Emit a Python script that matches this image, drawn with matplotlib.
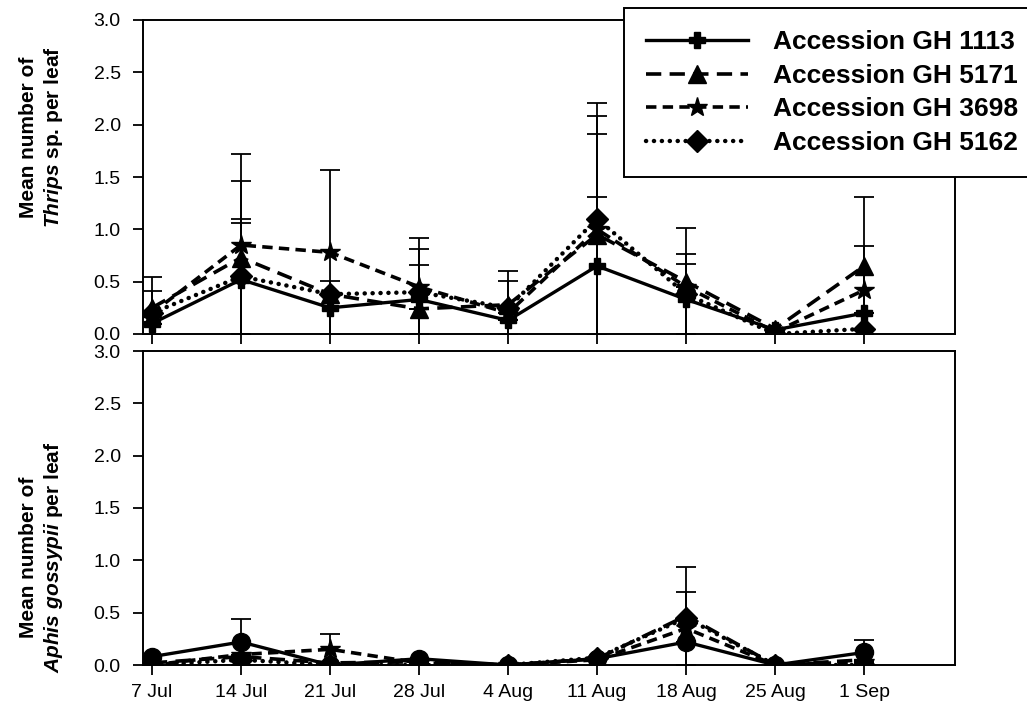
import numpy as np
import matplotlib
matplotlib.use('Agg')
import matplotlib.pyplot as plt

plt.rcParams['font.family'] = ['Liberation Sans', 'DejaVu Sans']
plt.rcParams['mathtext.fontset'] = 'custom'
plt.rcParams['mathtext.it'] = 'Liberation Sans:italic:bold'
plt.rcParams['mathtext.rm'] = 'Liberation Sans:bold'
plt.rcParams['lines.scale_dashes'] = False

dates = ['7 Jul', '14 Jul', '21 Jul', '28 Jul', '4 Aug', '11 Aug', '18 Aug', '25 Aug', '1 Sep']
accessions = ['Accession GH 1113', 'Accession GH 5171', 'Accession GH 3698', 'Accession GH 5162']

# Thrips sp. per leaf (mean, sd)
thrips_1113 = [0.10, 0.52, 0.25, 0.33, 0.13, 0.65, 0.33, 0.04, 0.20]
thrips_5171 = [0.25, 0.73, 0.38, 0.24, 0.28, 0.95, 0.50, 0.05, 0.65]
thrips_3698 = [0.20, 0.85, 0.78, 0.45, 0.20, 1.00, 0.45, 0.02, 0.42]
thrips_5162 = [0.20, 0.55, 0.38, 0.40, 0.25, 1.10, 0.38, 0.00, 0.05]
thrips_sd_1113 = [0.00, 0.54, 0.26, 0.33, 0.00, 0.66, 0.34, 0.00, 0.00]
thrips_sd_5171 = [0.29, 0.73, 0.00, 0.00, 0.32, 0.96, 0.51, 0.00, 0.66]
thrips_sd_3698 = [0.21, 0.87, 0.79, 0.47, 0.00, 1.08, 0.00, 0.00, 0.42]
thrips_sd_5162 = [0.00, 0.55, 0.00, 0.41, 0.26, 1.11, 0.38, 0.00, 0.00]

# Aphis gossypii per leaf (mean, sd)
aphis_1113 = [0.08, 0.22, 0.00, 0.06, 0.00, 0.06, 0.22, 0.00, 0.12]
aphis_5171 = [0.02, 0.08, 0.02, 0.03, 0.00, 0.06, 0.47, 0.00, 0.05]
aphis_3698 = [0.00, 0.10, 0.15, 0.02, 0.00, 0.05, 0.35, 0.00, 0.03]
aphis_5162 = [0.00, 0.05, 0.00, 0.00, 0.00, 0.07, 0.45, 0.00, 0.00]
aphis_sd_1113 = [0.00, 0.22, 0.00, 0.00, 0.00, 0.00, 0.00, 0.00, 0.12]
aphis_sd_5171 = [0.00, 0.00, 0.00, 0.00, 0.00, 0.00, 0.47, 0.00, 0.00]
aphis_sd_3698 = [0.00, 0.00, 0.15, 0.00, 0.00, 0.00, 0.35, 0.00, 0.00]
aphis_sd_5162 = [0.00, 0.00, 0.00, 0.00, 0.00, 0.00, 0.00, 0.00, 0.00]

W, H = 1027, 711
fig = plt.figure(figsize=(W / 100, H / 100), dpi=100)
ax1 = fig.add_axes([143 / W, (H - 334) / H, 812 / W, 314 / H])
ax2 = fig.add_axes([143 / W, (H - 665) / H, 812 / W, 314 / H])

x = np.arange(len(dates))

dot_style = dict(ls=(0, (0.1, 5.6)), dash_capstyle='round')
styles_top = [
    dict(ls='-', lw=2.4, marker='P', ms=12),
    dict(ls=(0, (11, 6)), lw=2.6, marker='^', ms=13),
    dict(ls=(0, (7.5, 4.5)), lw=2.6, marker='*', ms=15),
    dict(lw=3.2, marker='D', ms=11, **dot_style),
]
styles_bot = [
    dict(ls='-', lw=2.4, marker='o', ms=13),
    dict(ls=(0, (11, 6)), lw=2.6, marker='^', ms=13),
    dict(ls=(0, (7.5, 4.5)), lw=2.6, marker='*', ms=15),
    dict(lw=3.2, marker='D', ms=11, **dot_style),
]


def draw_panel(ax, means, sds, styles):
    for m, s in zip(means, sds):
        ax.errorbar(x, m, yerr=s, fmt='none', ecolor='black', elinewidth=1.3,
                    capsize=7, capthick=1.3, zorder=2)
    handles = []
    for m, st in zip(means, styles):
        h, = ax.plot(x, m, color='black', mfc='black', mec='black', zorder=3, **st)
        handles.append(h)
    ax.set_xlim(-0.101, 9.02)
    ax.set_ylim(0, 3.0)
    ax.set_yticks(np.arange(0, 3.01, 0.5))
    ax.set_yticklabels([f'{v:.1f}' for v in np.arange(0, 3.01, 0.5)])
    ax.set_xticks(x)
    ax.tick_params(direction='out', length=7, width=1.3, labelsize=14)
    ax.tick_params(axis='y', pad=9)
    ax.tick_params(axis='x', pad=7)
    for sp in ax.spines.values():
        sp.set_linewidth(1.4)
    return handles


handles = draw_panel(ax1, [thrips_1113, thrips_5171, thrips_3698, thrips_5162],
                     [thrips_sd_1113, thrips_sd_5171, thrips_sd_3698, thrips_sd_5162], styles_top)
draw_panel(ax2, [aphis_1113, aphis_5171, aphis_3698, aphis_5162],
           [aphis_sd_1113, aphis_sd_5171, aphis_sd_3698, aphis_sd_5162], styles_bot)
ax1.set_xticklabels([])
ax2.set_xticklabels(dates)

fig.text(42 / W, 1 - 137 / H, 'Mean number of\n$Thrips$ sp. per leaf', rotation=90,
         ha='center', va='center', fontsize=15, fontweight='bold', linespacing=1.25)
fig.text(42 / W, 1 - 557 / H, 'Mean number of\n$Aphis\\ gossypii$ per leaf', rotation=90,
         ha='center', va='center', fontsize=15, fontweight='bold', linespacing=1.25)

leg = fig.legend(handles, accessions, loc='upper left',
                 bbox_to_anchor=(624 / W, 1 - 8 / H), borderaxespad=0,
                 frameon=True, fancybox=False, framealpha=1, handlelength=3.85,
                 handletextpad=0.95, labelspacing=0.36, borderpad=0.85,
                 prop={'weight': 'bold', 'size': 19})
leg.get_frame().set_edgecolor('black')
leg.get_frame().set_linewidth(1.4)
leg.set_zorder(10)

fig.savefig('out.png', dpi=100)
